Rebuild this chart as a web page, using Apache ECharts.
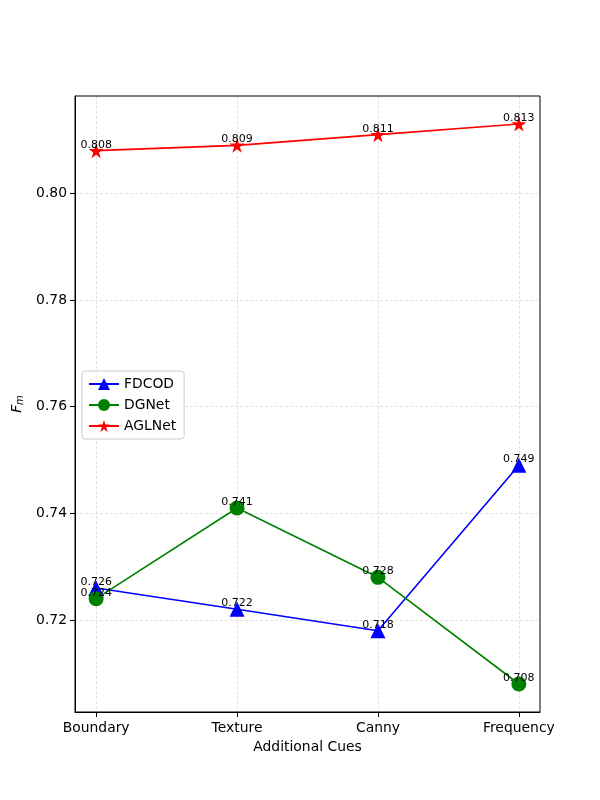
<!DOCTYPE html>
<html>
<head>
<meta charset="utf-8">
<script src="https://cdn.jsdelivr.net/npm/echarts@6/dist/echarts.min.js"></script>
<style>
  html, body { margin: 0; padding: 0; background: #fff; }
  #chart { width: 600px; height: 800px; }
</style>
</head>
<body>
<div id="chart"></div>
<script>
var categories = ['Boundary', 'Texture', 'Canny', 'Frequency'];
var fdcod = [0.726, 0.722, 0.718, 0.749];
var dgnet = [0.724, 0.741, 0.728, 0.708];
var aglnet = [0.808, 0.809, 0.811, 0.813];
var yTicks = [0.72, 0.74, 0.76, 0.78, 0.80];
var xTicks = [0, 1, 2, 3];

var font = 'DejaVu Sans';

function pairs(arr) {
	return arr.map(function (v, i) { return [i, v]; });
}

function makeSeries(name, data, color, symbol, size) {
	return {
		name: name,
		type: 'line',
		data: pairs(data),
		symbol: symbol,
		symbolSize: size,
		itemStyle: { color: color },
		lineStyle: { color: color, width: 1.6 },
		label: {
			show: true,
			position: 'inside',
			offset: [0, -6],
			color: '#000',
			fontFamily: font,
			fontSize: 11,
			formatter: function (p) { return p.value[1].toFixed(3); }
		},
		emphasis: { disabled: true },
		animation: false
	};
}

var option = {
	backgroundColor: '#fff',
	animation: false,
	textStyle: { fontFamily: font },
	grid: { left: 75, top: 96, right: 60, bottom: 88, show: false, containLabel: false, outerBoundsMode: 'none' },
	legend: {
		orient: 'vertical',
		left: 82,
		top: 371,
		padding: [6, 8, 6, 6],
		itemWidth: 30,
		itemHeight: 15,
		itemGap: 7,
		backgroundColor: 'rgba(255,255,255,0.8)',
		borderColor: '#cccccc',
		borderWidth: 1,
		borderRadius: 3,
		textStyle: { fontFamily: font, fontSize: 13.9, color: '#000' },
		data: ['FDCOD', 'DGNet', 'AGLNet']
	},
	xAxis: {
		type: 'value',
		min: -0.15,
		max: 3.15,
		name: 'Additional Cues',
		nameLocation: 'middle',
		nameGap: 28,
		nameTextStyle: { fontFamily: font, fontSize: 13.9, color: '#000' },
		axisLine: { show: true, onZero: false, lineStyle: { color: '#000', width: 1 } },
		axisTick: { show: true, customValues: xTicks, length: 5, lineStyle: { color: '#000' } },
		axisLabel: {
			customValues: xTicks,
			fontFamily: font, fontSize: 13.9, color: '#000', margin: 9,
			formatter: function (v) { return categories[Math.round(v)]; }
		},
		splitLine: { show: true, lineStyle: { color: '#cccccc', type: [3, 2], width: 0.6 } }
	},
	yAxis: {
		type: 'value',
		min: 0.70275,
		max: 0.81825,
		name: '{i|F}{s|m}',
		nameLocation: 'middle',
		nameGap: 48,
		nameTextStyle: {
			color: '#000',
			rich: {
				i: { fontFamily: font, fontStyle: 'italic', fontSize: 13.9, color: '#000' },
				s: { fontFamily: font, fontStyle: 'italic', fontSize: 10, color: '#000', verticalAlign: 'bottom', padding: [6, 0, 0, 0] }
			}
		},
		axisLine: { show: true, onZero: false, lineStyle: { color: '#000', width: 1 } },
		axisTick: { show: true, customValues: yTicks, length: 5, lineStyle: { color: '#000' } },
		axisLabel: {
			customValues: yTicks,
			fontFamily: font, fontSize: 13.9, color: '#000', margin: 8,
			formatter: function (v) { return v.toFixed(2); }
		},
		splitLine: { show: true, lineStyle: { color: '#cccccc', type: [3, 2], width: 0.6 } }
	},
	series: [
		makeSeries('FDCOD', fdcod, '#0000ff', 'triangle', 15),
		makeSeries('DGNet', dgnet, '#008000', 'circle', 15),
		makeSeries('AGLNet', aglnet, '#ff0000', 'path://M0,-10 L2.245,-3.09 L9.511,-3.09 L3.633,1.18 L5.878,8.09 L0,3.82 L-5.878,8.09 L-3.633,1.18 L-9.511,-3.09 L-2.245,-3.09 Z', 15)
	],
	graphic: [{
		type: 'rect',
		shape: { x: 75, y: 96, width: 465, height: 616 },
		style: { fill: 'none', stroke: '#000', lineWidth: 1 },
		silent: true,
		z: 100
	}]
};

var myChart = echarts.init(document.getElementById('chart'), null, { renderer: 'canvas' });
myChart.setOption(option);
</script>
</body>
</html>
